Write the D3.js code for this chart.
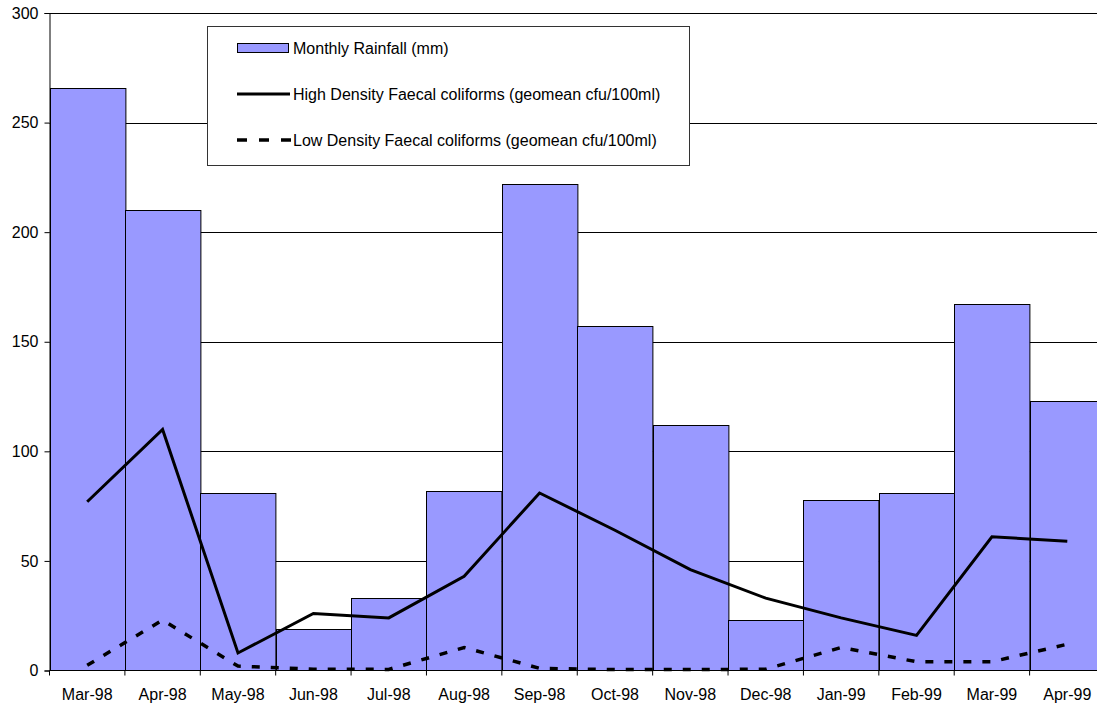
<!DOCTYPE html>
<html><head><meta charset="utf-8">
<script src="https://cdn.jsdelivr.net/npm/d3@7"></script>
<style>body{margin:0;background:#fff}svg{display:block}text{font-family:"Liberation Sans",Arial,sans-serif}</style>
</head><body><svg id="c" width="1097" height="706"></svg>
<script>
const months = ["Mar-98","Apr-98","May-98","Jun-98","Jul-98","Aug-98","Sep-98","Oct-98","Nov-98","Dec-98","Jan-99","Feb-99","Mar-99","Apr-99"];
const rainfall = [266,210,81,19,33,82,222,157,112,23,78,81,167,123];
const highDensity = [77,110,8,26,24,43,81,64,46,33,24,16,61,59];
const lowDensity = [2.4,23,2,0.6,0.5,10.5,1,0.4,0.4,0.6,10.5,4,4,12];
const yTicks = [0,50,100,150,200,250,300];
const legendLabels = ["Monthly Rainfall (mm)","High Density Faecal coliforms (geomean cfu/100ml)","Low Density Faecal coliforms (geomean cfu/100ml)"];

const svg = d3.select("#c");
const L = 49.5, R = 1105, T = 13, B = 670.5;
const x = d3.scaleBand().domain(months).range([L, R]).padding(0);
const y = d3.scaleLinear().domain([0,300]).range([B, T]);

// gridlines
svg.append("g").selectAll("line").data(yTicks.filter(d=>d>0)).join("line")
  .attr("x1", L).attr("x2", R).attr("y1", d=>Math.round(y(d))+0.5).attr("y2", d=>Math.round(y(d))+0.5)
  .attr("stroke", "#000").attr("stroke-width", 1);

// bars
svg.append("g").selectAll("rect").data(rainfall).join("rect")
  .attr("x", (d,i)=>Math.round(x(months[i]))+0.5)
  .attr("width", x.bandwidth())
  .attr("y", d=>Math.round(y(d))+0.5)
  .attr("height", d=>B - Math.round(y(d)) - 0.5)
  .attr("fill", "#9999FF").attr("stroke", "#000").attr("stroke-width", 1);

// axes
const yAxis = d3.axisLeft(y).tickValues(yTicks).tickSize(5).tickPadding(6).tickFormat(d3.format("d"));
const gy = svg.append("g").attr("transform", `translate(${L},0)`).call(yAxis);
gy.select(".domain").attr("stroke","#000");
gy.selectAll("text").attr("font-size", 16).attr("font-family","'Liberation Sans',Arial,sans-serif").attr("fill","#000");

const xTickScale = d3.scaleLinear().domain([0,14]).range([L, R]);
const gx = svg.append("g").attr("transform", `translate(0,${B})`);
gx.append("line").attr("x1", L).attr("x2", R).attr("stroke","#000");
gx.selectAll(".t").data(d3.range(15)).join("line").attr("class","t")
  .attr("x1", d=>xTickScale(d)).attr("x2", d=>xTickScale(d)).attr("y1",0).attr("y2",5).attr("stroke","#000");
gx.selectAll("text").data(months).join("text")
  .attr("x", d=>x(d)+x.bandwidth()/2).attr("y", 29)
  .attr("text-anchor","middle").attr("font-size", 16).text(d=>d);

// lines
const line = d3.line().x((d,i)=>x(months[i])+x.bandwidth()/2).y(d=>y(d));
svg.append("path").datum(highDensity).attr("d", line).attr("fill","none").attr("stroke","#000").attr("stroke-width",3).attr("stroke-linejoin","miter");
svg.append("path").datum(lowDensity).attr("d", line).attr("fill","none").attr("stroke","#000").attr("stroke-width",3.5).attr("stroke-dasharray","8,11");

// legend
const lg = svg.append("g");
lg.append("rect").attr("x",207.5).attr("y",26.5).attr("width",482).attr("height",139).attr("fill","#fff").attr("stroke","#333");
const ly = [48, 94, 140];
lg.append("rect").attr("x",237.5).attr("y",ly[0]-4.5).attr("width",51).attr("height",9).attr("fill","#9999FF").attr("stroke","#000");
lg.append("line").attr("x1",237).attr("x2",290).attr("y1",ly[1]).attr("y2",ly[1]).attr("stroke","#000").attr("stroke-width",3);
lg.append("line").attr("x1",237).attr("x2",292).attr("y1",ly[2]).attr("y2",ly[2]).attr("stroke","#000").attr("stroke-width",3.5).attr("stroke-dasharray","10,12");
lg.selectAll("text").data(legendLabels).join("text")
  .attr("x",293).attr("y",(d,i)=>ly[i]+6).attr("font-size",16).text(d=>d);
</script></body></html>
